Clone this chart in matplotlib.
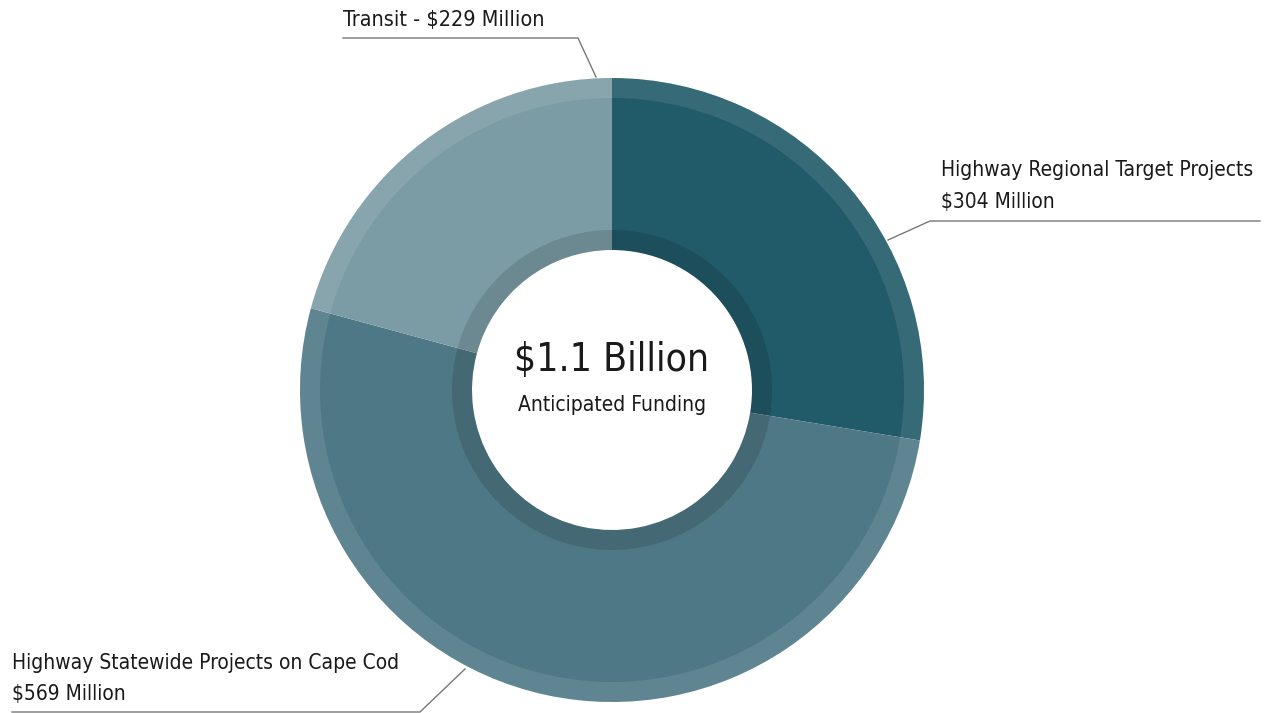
import matplotlib.pyplot as plt
from matplotlib.patches import Wedge

labels = ['Highway Regional Target Projects', 'Highway Statewide Projects on Cape Cod', 'Transit']
values = [304, 569, 229]
colors = ['#215a68', '#4e7886', '#7b9ba5']
total_text = '$1.1 Billion'
sub_text = 'Anticipated Funding'

plt.rcParams['font.family'] = ['DejaVu Sans']
plt.rcParams['font.stretch'] = 'condensed'

W, H = 1265, 713
fig = plt.figure(figsize=(W / 100, H / 100), dpi=100)
ax = fig.add_axes([0, 0, 1, 1])

cx, cy = 612, H - 390
r_out, r_hole = 312, 140

ax.pie(values, colors=colors, startangle=90, counterclock=False,
       radius=r_out, center=(cx, cy), frame=True,
       wedgeprops=dict(width=r_out - r_hole, linewidth=0))
ax.set_xlim(0, W)
ax.set_ylim(0, H)
ax.set_aspect('equal')
ax.axis('off')

# lighter outer band and darker inner band
ax.add_patch(Wedge((cx, cy), r_out, 0, 360, width=20, facecolor='white', alpha=0.1, linewidth=0))
ax.add_patch(Wedge((cx, cy), r_hole + 20, 0, 360, width=20, facecolor='black', alpha=0.12, linewidth=0))

ax.text(cx, H - 360, total_text, fontsize=28, ha='center', va='center', color='#1a1a1a')
ax.text(cx, H - 405, sub_text, fontsize=15, ha='center', va='center', color='#1a1a1a')

lc = '#777777'
fs = 15
# Transit
ax.text(343, H - 20, 'Transit - $229 Million', fontsize=15.5, ha='left', va='center', color='#1a1a1a')
ax.plot([343, 578, 596], [H - 38, H - 38, H - 77], color=lc, lw=1)
# Regional
ax.text(941, H - 170, 'Highway Regional Target Projects', fontsize=fs, ha='left', va='center', color='#1a1a1a')
ax.text(941, H - 202, '$304 Million', fontsize=fs, ha='left', va='center', color='#1a1a1a')
ax.plot([1260, 930, 888], [H - 221, H - 221, H - 240], color=lc, lw=1)
# Statewide
ax.text(12, H - 663, 'Highway Statewide Projects on Cape Cod', fontsize=fs, ha='left', va='center', color='#1a1a1a')
ax.text(12, H - 694, '$569 Million', fontsize=fs, ha='left', va='center', color='#1a1a1a')
ax.plot([12, 420, 465], [H - 712, H - 712, H - 669], color=lc, lw=1)

fig.savefig('out.png', dpi=100, facecolor='white')
